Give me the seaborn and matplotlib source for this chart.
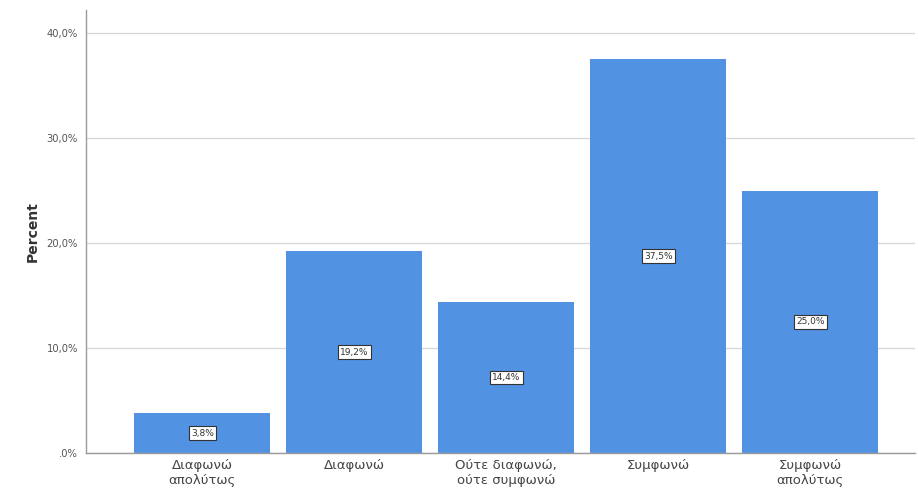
import matplotlib
matplotlib.use("Agg")
import matplotlib.pyplot as plt
import seaborn as sns
import pandas as pd

categories = ["Διαφωνώ\nαπολύτως", "Διαφωνώ", "Ούτε διαφωνώ,\nούτε συμφωνώ",
              "Συμφωνώ", "Συμφωνώ\nαπολύτως"]
percent = [3.8, 19.2, 14.4, 37.5, 25.0]
y_ticks = [0, 10, 20, 30, 40]
y_tick_labels = [".0%", "10,0%", "20,0%", "30,0%", "40,0%"]

sns.set_theme(style="whitegrid")
plt.rcParams["font.family"] = ["DejaVu Sans"]

df = pd.DataFrame({"cat": categories, "pct": percent})

fig = plt.figure(figsize=(9.18, 5.0), dpi=100)
ax = fig.add_axes([0.094, 0.094, 0.903, 0.886])

sns.barplot(data=df, x="cat", y="pct", ax=ax, color="#5292E2",
            saturation=1, width=0.895, edgecolor="none")

ax.set_ylim(0, 42.2)
ax.set_xlim(-0.763, 4.69)
ax.set_yticks(y_ticks)
ax.set_yticklabels(y_tick_labels, fontsize=7.2, color="#555555")
ax.tick_params(axis="x", labelsize=9.5, colors="#444444", length=0, pad=4)
ax.tick_params(axis="y", length=0, pad=6)
ax.set_xlabel("")
ax.set_ylabel("Percent", fontsize=10, fontweight="bold", color="#333333", labelpad=5)

ax.grid(axis="y", color="#d6d6d6", linewidth=0.9)
ax.grid(axis="x", visible=False)
ax.set_axisbelow(True)
for side in ["top", "right"]:
    ax.spines[side].set_visible(False)
ax.spines["left"].set_color("#9a9a9a")
ax.spines["bottom"].set_color("#9a9a9a")
ax.spines["left"].set_linewidth(1.0)
ax.spines["bottom"].set_linewidth(1.0)

for i, v in enumerate(percent):
    ax.text(i, v / 2, f"{v:.1f}%".replace(".", ","), ha="center", va="center",
            fontsize=6.5, color="#333333",
            bbox=dict(boxstyle="square,pad=0.25", facecolor="white",
                      edgecolor="#333333", linewidth=0.8))

fig.savefig("out.png", dpi=100)
